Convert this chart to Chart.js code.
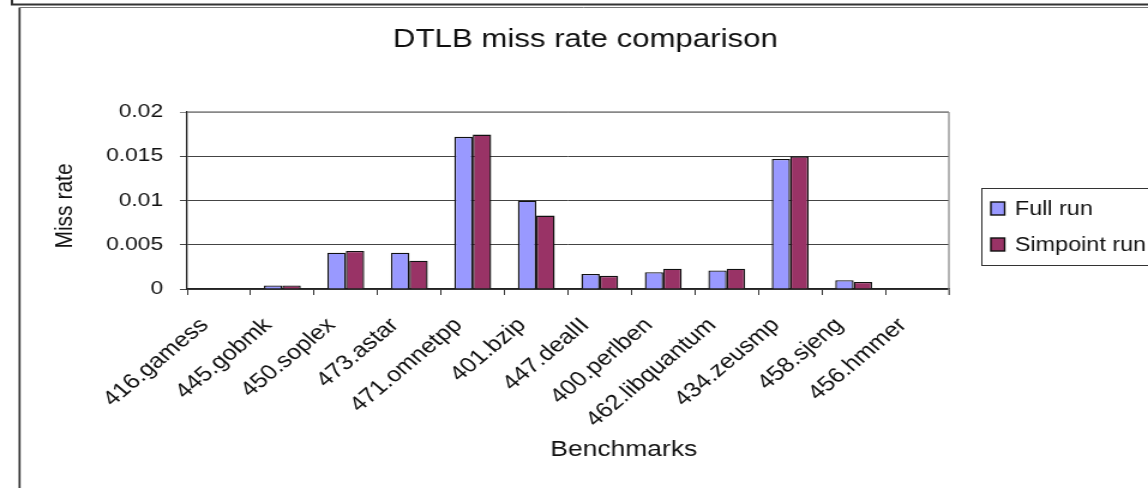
<!DOCTYPE html>
<html>
<head>
<meta charset="utf-8">
<script src="https://cdn.jsdelivr.net/npm/chart.js@4/dist/chart.umd.min.js"></script>
<style>
  html, body { margin: 0; padding: 0; background: #fff; overflow: hidden; }
  /* the source picture is stretched sideways, so the whole chart is drawn 957 wide and scaled to 1148 */
  #wrap { width: 957px; height: 488px; transform: scaleX(1.19958); transform-origin: 0 0; }
</style>
</head>
<body>
<div id="wrap"><canvas id="tlbChart"></canvas></div>
<script>
// data
const categories = ['416.gamess', '445.gobmk', '450.soplex', '473.astar', '471.omnetpp', '401.bzip',
  '447.dealII', '400.perlben', '462.libquantum', '434.zeusmp', '458.sjeng', '456.hmmer'];
const fullRun = [0, 0.0004, 0.0041, 0.0041, 0.0172, 0.0100, 0.0017, 0.0019, 0.0021, 0.0147, 0.0010, 0];
const simpointRun = [0, 0.0004, 0.0043, 0.0032, 0.01745, 0.0083, 0.0015, 0.0023, 0.0023, 0.0150, 0.0008, 0];
const yTickLabels = ['0', '0.005', '0.01', '0.015', '0.02'];
const seriesNames = ['Full run', 'Simpoint run'];

const FONT = '"Liberation Sans", Arial, sans-serif';

// frame, title, axis titles, plot border, legend
const decorations = {
  id: 'decorations',
  beforeDraw(chart) {
    const ctx = chart.ctx;
    ctx.save();
    ctx.fillStyle = '#fff';
    ctx.fillRect(0, 0, chart.width, chart.height);
    ctx.strokeStyle = '#333';
    ctx.lineWidth = 2;
    ctx.beginPath();
    ctx.moveTo(10, 0); ctx.lineTo(10, 4.5); ctx.lineTo(chart.width, 4.5);
    ctx.stroke();
    ctx.lineWidth = 1.7;
    ctx.beginPath();
    ctx.moveTo(16.3, 488); ctx.lineTo(16.3, 7.5);
    ctx.stroke();
    ctx.lineWidth = 1;
    ctx.strokeStyle = '#777';
    ctx.beginPath();
    ctx.moveTo(16.3, 7.5); ctx.lineTo(chart.width, 7.5);
    ctx.stroke();
    ctx.restore();
  },
  afterDraw(chart) {
    const ctx = chart.ctx;
    const a = chart.chartArea;
    ctx.save();
    // plot area border top/right
    ctx.strokeStyle = '#888';
    ctx.lineWidth = 1.5;
    ctx.beginPath();
    ctx.moveTo(a.left, a.top); ctx.lineTo(a.right, a.top);
    ctx.stroke();
    ctx.lineWidth = 1.25;
    ctx.beginPath();
    ctx.moveTo(a.right, a.top); ctx.lineTo(a.right, a.bottom + 6);
    ctx.stroke();

    ctx.fillStyle = '#111';
    ctx.textAlign = 'center';
    ctx.textBaseline = 'alphabetic';
    ctx.font = '26px ' + FONT;
    ctx.fillText('DTLB miss rate comparison', 488, 47);

    ctx.font = '22px ' + FONT;
    ctx.fillText('Benchmarks', 520, 456);

    ctx.save();
    ctx.translate(60, 206);
    ctx.rotate(-Math.PI / 2);
    ctx.font = '21px ' + FONT;
    ctx.fillText('Miss rate', 0, 0);
    ctx.restore();

    // legend box
    ctx.strokeStyle = '#333';
    ctx.lineWidth = 1;
    ctx.strokeRect(818.5, 188.5, 160, 77);
    ctx.font = '19.5px ' + FONT;
    ctx.textAlign = 'left';
    chart.data.datasets.forEach((ds, i) => {
      const y = 202 + i * 36;
      ctx.fillStyle = ds.backgroundColor;
      ctx.fillRect(826, y, 11.5, 13);
      ctx.strokeStyle = '#111';
      ctx.lineWidth = 1.4;
      ctx.strokeRect(826, y, 11.5, 13);
      ctx.fillStyle = '#111';
      ctx.fillText(ds.label, 846, y + 13);
    });
    ctx.restore();
  }
};

new Chart(document.getElementById('tlbChart'), {
  type: 'bar',
  data: {
    labels: categories,
    datasets: [{
      label: seriesNames[0],
      data: fullRun,
      backgroundColor: '#9999ff',
      borderColor: '#111',
      borderWidth: 1.4,
      barPercentage: 1.0,
      categoryPercentage: 0.58
    }, {
      label: seriesNames[1],
      data: simpointRun,
      backgroundColor: '#993366',
      borderColor: '#111',
      borderWidth: 1.4,
      barPercentage: 1.0,
      categoryPercentage: 0.58
    }]
  },
  plugins: [decorations],
  options: {
    responsive: true,
    maintainAspectRatio: false,
    devicePixelRatio: 1,
    animation: false,
    events: [],
    layout: { padding: { left: 17, top: 112, right: 166, bottom: 0 } },
    plugins: {
      legend: { display: false },
      title: { display: false },
      tooltip: { enabled: false }
    },
    scales: {
      x: {
        afterFit(scale) { scale.height = 199; },
        grid: { offset: true, drawOnChartArea: false, drawTicks: true, tickLength: 6, color: '#333' },
        border: { color: '#222', width: 1.5 },
        ticks: {
          autoSkip: false,
          minRotation: 45,
          maxRotation: 45,
          padding: 18,
          labelOffset: -12,
          color: '#111',
          font: { family: FONT, size: 21 }
        }
      },
      y: {
        min: 0,
        max: 0.02,
        afterFit(scale) { scale.width = 139; },
        grid: {
          color: (c) => (c.tick && c.tick.value >= 0.02 ? '#888' : '#444'),
          lineWidth: 1,
          tickLength: 6
        },
        border: { color: '#222', width: 1.3 },
        ticks: {
          stepSize: 0.005,
          padding: 14,
          color: '#111',
          font: { family: FONT, size: 19 },
          callback: (v, i) => yTickLabels[i]
        }
      }
    }
  }
});
</script>
</body>
</html>
